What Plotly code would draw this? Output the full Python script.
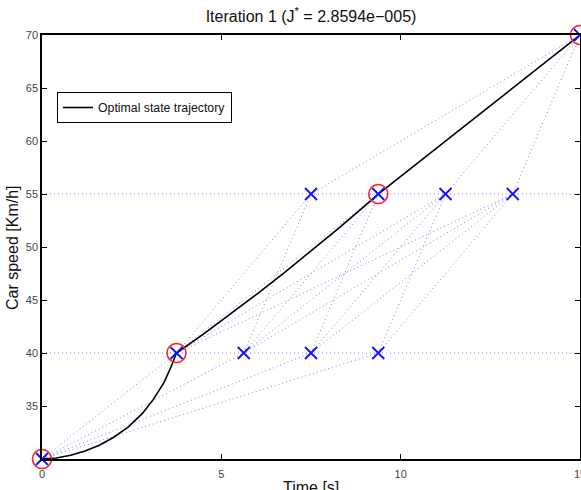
import plotly.graph_objects as go

# ---- data ----
start_t, start_v = 0.0, 30.0
final_t, final_v = 15.0, 70.0
stage1_t = [3.75, 5.625, 7.5, 9.375]
stage1_v = 40.0
stage2_t = [7.5, 9.375, 11.25, 13.125]
stage2_v = 55.0

opt_nodes_t = [0.0, 3.75, 9.375, 15.0]
opt_nodes_v = [30.0, 40.0, 55.0, 70.0]

opt_t = [0.0, 0.4, 0.8, 1.2, 1.6, 2.0, 2.4, 2.8, 3.1, 3.4, 3.6, 3.75,
         4.5, 5.25, 6.0, 6.75, 7.5, 8.25, 9.0, 9.375, 15.0]
opt_v = [30.0, 30.1, 30.35, 30.75, 31.3, 32.05, 33.0, 34.3, 35.6, 37.2, 38.7, 40.0,
         41.79, 43.65, 45.57, 47.56, 49.6, 51.72, 53.89, 55.0, 70.0]

x_ticks = [0, 5, 10, 15]
y_ticks = [35, 40, 45, 50, 55, 60, 65, 70]

# ---- candidate (dotted) segments ----
seg_x, seg_y = [], []
for v in (stage1_v, stage2_v):
    seg_x += [start_t, final_t, None]
    seg_y += [v, v, None]
for t1 in stage1_t:
    seg_x += [start_t, t1, None]
    seg_y += [start_v, stage1_v, None]
for t1 in stage1_t:
    for t2 in stage2_t:
        if t2 > t1:
            seg_x += [t1, t2, None]
            seg_y += [stage1_v, stage2_v, None]
for t2 in stage2_t:
    seg_x += [t2, final_t, None]
    seg_y += [stage2_v, final_v, None]

all_t = [start_t] + stage1_t + stage2_t + [final_t]
all_v = [start_v] + [stage1_v] * len(stage1_t) + [stage2_v] * len(stage2_t) + [final_v]

FONT = "Liberation Sans, Arial, sans-serif"

fig = go.Figure()
fig.add_trace(go.Scatter(x=seg_x, y=seg_y, mode="lines",
                         line=dict(color="rgba(100,100,255,0.8)", width=1, dash="1px,3px"),
                         showlegend=False, hoverinfo="skip", cliponaxis=False))
fig.add_trace(go.Scatter(x=opt_t, y=opt_v, mode="lines",
                         line=dict(color="black", width=1.6),
                         name="Optimal state trajectory", cliponaxis=False))
fig.add_trace(go.Scatter(x=opt_nodes_t, y=opt_nodes_v, mode="markers",
                         marker=dict(symbol="circle-open", size=19,
                                     line=dict(color="#ff2020", width=1.6), color="#ff2020"),
                         showlegend=False, cliponaxis=False))
fig.add_trace(go.Scatter(x=all_t, y=all_v, mode="markers",
                         marker=dict(symbol="x-thin-open", size=12,
                                     line=dict(color="#1010ff", width=1.8), color="#1010ff"),
                         showlegend=False, cliponaxis=False))

axis_common = dict(showgrid=False, zeroline=False, showline=True, linecolor="black",
                   linewidth=1.5, mirror="ticks", ticks="inside", ticklen=5,
                   tickcolor="black", automargin=False, ticklabeloverflow="allow",
                   layer="above traces",
                   tickfont=dict(family=FONT, size=11, color="#444"))

fig.update_layout(
    width=581, height=490,
    margin=dict(l=42, r=1, t=35, b=31),
    paper_bgcolor="white", plot_bgcolor="white",
    font=dict(family=FONT, color="black"),
    title=dict(text="Iteration 1 (J<sup>*</sup> = 2.8594e−005)", x=311 / 581,
               xanchor="center", y=1 - 16 / 490, yanchor="middle",
               font=dict(size=16, color="#111")),
    xaxis=dict(range=[0, 15], tickvals=x_ticks, ticklabelstandoff=4, **axis_common),
    yaxis=dict(range=[30, 70], tickvals=y_ticks, **axis_common),
    annotations=[
        dict(text="Time [s]", xref="paper", yref="paper", x=0.5, y=-(487 - 459) / 424,
             xanchor="center", yanchor="middle", showarrow=False,
             font=dict(family=FONT, size=16, color="#111")),
        dict(text="Car speed [Km/h]", xref="paper", yref="paper", x=-(42 - 12) / 538,
             y=(459 - 248) / 424, xanchor="center", yanchor="middle", textangle=-90,
             showarrow=False, font=dict(family=FONT, size=16, color="#111")),
    ],
    legend=dict(x=(57 - 42) / 538, y=(459 - 92) / 424, xanchor="left", yanchor="top",
                bordercolor="black", borderwidth=1, bgcolor="white",
                font=dict(family=FONT, size=12.3, color="#111"), tracegroupgap=0),
    showlegend=True,
)

fig.write_html("out.html")
